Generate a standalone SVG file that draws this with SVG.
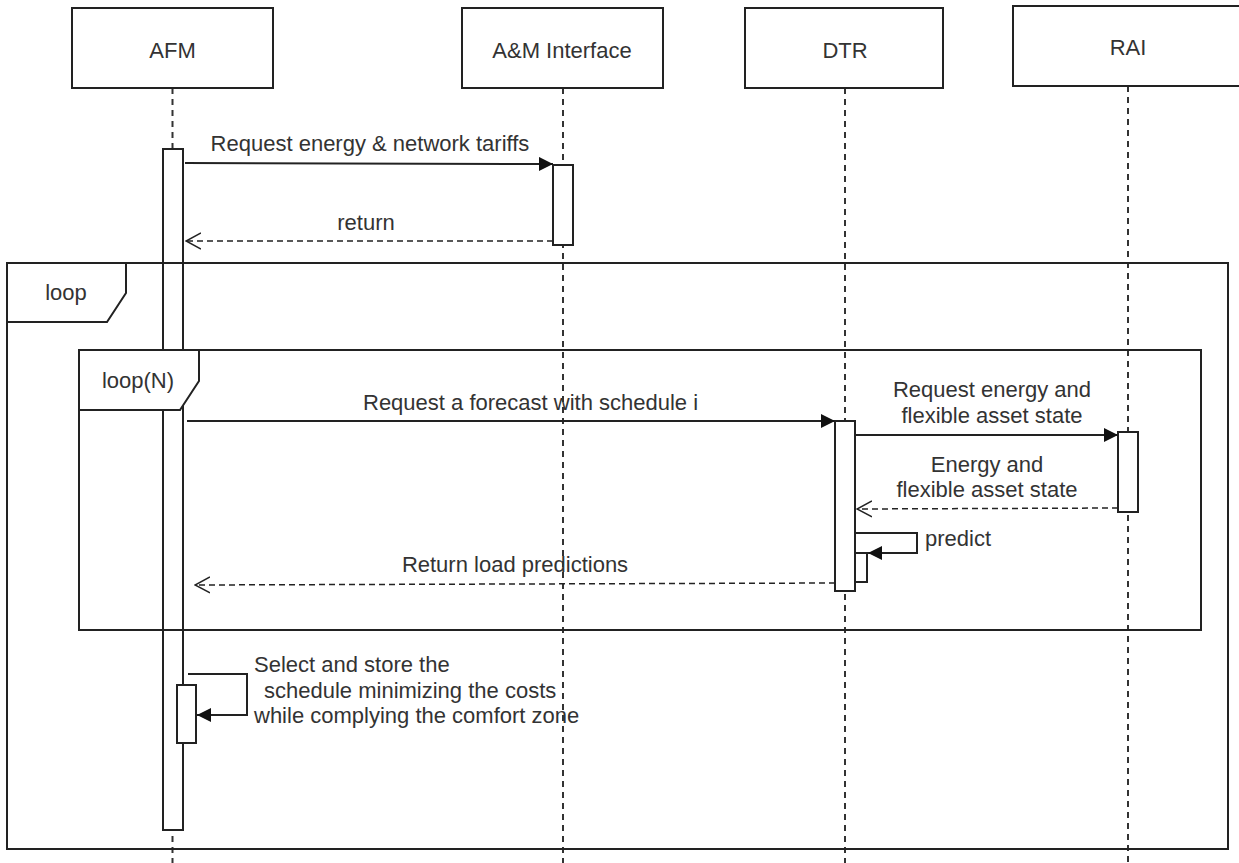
<svg xmlns="http://www.w3.org/2000/svg" width="1239" height="863" viewBox="0 0 1239 863">
<defs>
<marker id="filled" viewBox="0 0 14 14" refX="14" refY="7" markerWidth="14" markerHeight="14" markerUnits="userSpaceOnUse" orient="auto"><path d="M0,0 L14,7 L0,14 Z" fill="#111"/></marker>
<marker id="open" viewBox="0 0 16 18" refX="15" refY="9" markerWidth="16" markerHeight="18" markerUnits="userSpaceOnUse" orient="auto"><path d="M0,1 L15,9 L0,17" fill="none" stroke="#222" stroke-width="1.5"/></marker>
</defs>
<style>
.box{fill:#fff;stroke:#222;stroke-width:2}
.life{stroke:#333;stroke-width:2;stroke-dasharray:6,5;fill:none}
.act{fill:#fff;stroke:#222;stroke-width:2}
.frame{fill:none;stroke:#222;stroke-width:2}
.tab{fill:#fff;stroke:#222;stroke-width:2}
.msg{stroke:#222;stroke-width:2;fill:none}
.ret{stroke:#222;stroke-width:1.5;fill:none;stroke-dasharray:6,4}
text{font-family:"Liberation Sans",Arial,sans-serif;font-size:22px;fill:#333}
.c{text-anchor:middle}
</style>
<rect width="1239" height="863" fill="#fff"/>
<g id="lifelines">
<line class="life" x1="172.5" y1="88" x2="172.5" y2="863"/>
<line class="life" x1="563" y1="88" x2="563" y2="863"/>
<line class="life" x1="845" y1="88" x2="845" y2="863"/>
<line class="life" x1="1128" y1="86" x2="1128" y2="863"/>
</g>
<g id="AFM">
<rect class="box" x="72" y="8" width="201" height="80"/>
<text x="172.5" y="58" class="c">AFM</text>
<rect class="act" x="163" y="149" width="20" height="681"/>
<rect class="act" x="177" y="685" width="19" height="58"/>
</g>
<g id="AMInterface">
<rect class="box" x="462" y="8" width="201" height="80"/>
<text x="562" y="58" class="c">A&amp;M Interface</text>
<rect class="act" x="553" y="165" width="20" height="80"/>
</g>
<g id="DTR">
<rect class="box" x="745" y="8" width="198" height="80"/>
<text x="845" y="58" class="c">DTR</text>
<rect class="act" x="835" y="421" width="20" height="170"/>
<rect class="act" x="855" y="553" width="12" height="29"/>
</g>
<g id="RAI">
<rect class="box" x="1013" y="6" width="228" height="80"/>
<text x="1128" y="55" class="c">RAI</text>
<rect class="act" x="1118" y="432" width="20" height="80"/>
</g>
<g id="outer-loop">
<rect class="frame" x="7" y="263" width="1221" height="586"/>
<path class="tab" d="M7,263 H126 V293 L107,322 H7 Z"/>
<text x="66" y="300" class="c">loop</text>
</g>
<g id="inner-loop">
<rect class="frame" x="79" y="350" width="1122" height="280"/>
<path class="tab" d="M79,350 H199 V381 L180,410 H79 Z"/>
<text x="138" y="388" class="c">loop(N)</text>
</g>
<g id="connectors">
<line class="msg" x1="185" y1="163" x2="553" y2="164" marker-end="url(#filled)"/>
<line class="ret" x1="553" y1="241" x2="186" y2="241" marker-end="url(#open)"/>
<line class="msg" x1="187" y1="421" x2="835" y2="421" marker-end="url(#filled)"/>
<line class="msg" x1="855" y1="435" x2="1118" y2="435" marker-end="url(#filled)"/>
<line class="ret" x1="1118" y1="508" x2="857" y2="509" marker-end="url(#open)"/>
<path class="msg" d="M855,533 H917 V553 H868" marker-end="url(#filled)"/>
<line class="ret" x1="835" y1="583" x2="195" y2="585" marker-end="url(#open)"/>
<path class="msg" d="M188,674 H247 V715 H197" marker-end="url(#filled)"/>
</g>
<g id="labels">
<text x="370" y="151" class="c">Request energy &amp; network tariffs</text>
<text x="366" y="230" class="c">return</text>
<text x="363" y="410">Request a forecast with schedule i</text>
<text x="992" y="397" class="c">Request energy and</text>
<text x="992" y="423" class="c">flexible asset state</text>
<text x="987" y="472" class="c">Energy and</text>
<text x="987" y="497" class="c">flexible asset state</text>
<text x="925" y="546">predict</text>
<text x="515" y="572" class="c">Return load predictions</text>
<text x="254" y="672">Select and store the</text>
<text x="264" y="698">schedule minimizing the costs</text>
<text x="254" y="723">while complying the comfort zone</text>
</g>
</svg>
